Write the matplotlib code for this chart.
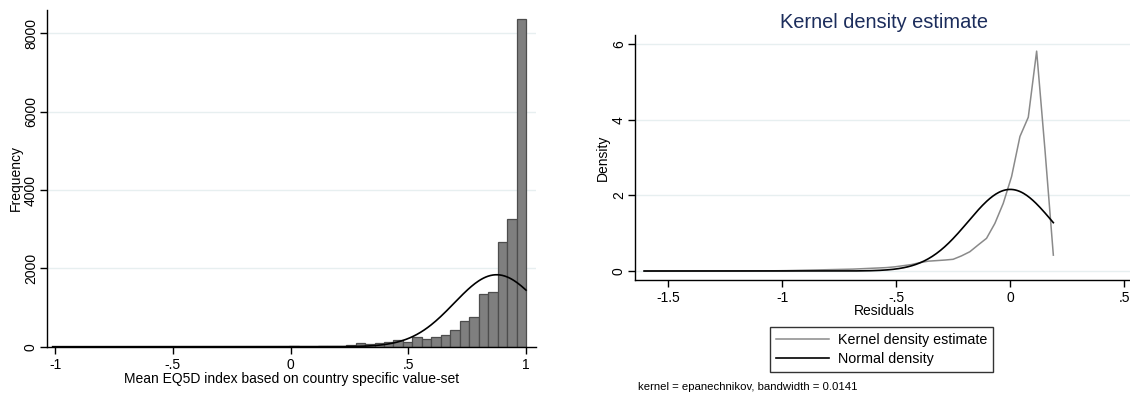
import numpy as np
import matplotlib
matplotlib.use("Agg")
import matplotlib.pyplot as plt

plt.rcParams['font.family'] = ['Liberation Sans', 'DejaVu Sans']

# ---------------- data: histogram (left) ----------------
hist_start = -1.01
hist_binwidth = 0.0402
hist_counts = [0, 0, 0, 0, 0, 0, 0, 0, 0, 0,
               0, 0, 0, 0, 0, 0, 0, 0, 0, 0,
               0, 0, 0, 0, 2,
               25, 5, 5, 8, 10, 30, 40, 90, 70, 100, 120, 171,
               128, 255, 189, 248, 290, 418, 648, 758, 1337, 1388,
               2665, 3252, 8366]
hist_mean = 0.875
hist_sd = 0.18
hist_min, hist_max = -1.01, 1.0
hist_xticks = [-1, -0.5, 0, 0.5, 1]
hist_xticklabels = ['-1', '-.5', '0', '.5', '1']
hist_yticks = [0, 2000, 4000, 6000, 8000]
hist_yticklabels = ['0', '2000', '4000', '6000', '8000']

# ---------------- data: kernel density (right) ----------------
kd_min, kd_max = -1.607, 0.189
kd_density = [0.0, 0.0, 0.0, 0.0, 0.0, 0.0, 0.0, 0.0, 0.0, 0.0,
              0.0, 0.0, 0.002, 0.003, 0.004, 0.005, 0.007, 0.01, 0.015, 0.02,
              0.025, 0.03, 0.035, 0.04, 0.045, 0.05, 0.06, 0.07, 0.08, 0.09,
              0.11, 0.14, 0.17, 0.22, 0.26, 0.275, 0.29, 0.31, 0.40, 0.51,
              0.69, 0.865, 1.26, 1.79, 2.50, 3.56, 4.07, 5.82, 3.2, 0.42]
kd_mean = 0.0
kd_sd = 0.1847
kd_xticks = [-1.5, -1, -0.5, 0, 0.5]
kd_xticklabels = ['-1.5', '-1', '-.5', '0', '.5']
kd_yticks = [0, 2, 4, 6]
kd_yticklabels = ['0', '2', '4', '6']
legend_labels = ['Kernel density estimate', 'Normal density']

W, H = 1130, 394
fig = plt.figure(figsize=(W / 100, H / 100), dpi=100)
fig.patch.set_facecolor('white')

def fr(x0, y0, x1, y1):
    return [x0 / W, 1 - y1 / H, (x1 - x0) / W, (y1 - y0) / H]

grid_color = '#e7eff0'

def style(ax):
    for s in ['top', 'right']:
        ax.spines[s].set_visible(False)
    for s in ['left', 'bottom']:
        ax.spines[s].set_linewidth(1.0)
        ax.spines[s].set_color('black')
    ax.tick_params(axis='both', direction='out', length=5, width=1, labelsize=10, colors='black')
    ax.tick_params(axis='y', pad=1.5)
    ax.tick_params(axis='x', pad=3)
    ax.set_axisbelow(True)

# ---------------- left panel ----------------
ax1 = fig.add_axes(fr(47, 10, 535.7, 346.7))
style(ax1)
counts = np.array(hist_counts, dtype=float)
edges = hist_start + hist_binwidth * np.arange(len(counts) + 1)
ax1.bar(edges[:-1], counts, width=hist_binwidth, align='edge',
        color='#7f7f7f', edgecolor='#4d4d4d', linewidth=0.9, zorder=2)
xs = np.linspace(hist_min, hist_max, 400)
scale = counts.sum() * hist_binwidth
ys = scale / (hist_sd * np.sqrt(2 * np.pi)) * np.exp(-0.5 * ((xs - hist_mean) / hist_sd) ** 2)
ax1.plot(xs, ys, color='black', lw=1.2, zorder=3)
ax1.set_xlim(-1.034, 1.041)
ax1.set_ylim(0, 8596)
ax1.set_xticks(hist_xticks)
ax1.set_xticklabels(hist_xticklabels)
ax1.set_yticks(hist_yticks)
ax1.set_yticklabels(hist_yticklabels, rotation=90, va='center')
for y in hist_yticks[1:]:
    ax1.axhline(y, color=grid_color, lw=1.0, zorder=0)
ax1.set_xlabel('Mean EQ5D index based on country specific value-set', fontsize=10)
ax1.xaxis.set_label_coords(0.5, (346.7 - 379.3) / 336.7)
ax1.xaxis.label.set_va('center')
ax1.set_ylabel('Frequency', fontsize=10)
ax1.yaxis.set_label_coords((15.5 - 47) / 488.7, 0.5)
ax1.yaxis.label.set_va('center')

# ---------------- right panel ----------------
ax2 = fig.add_axes(fr(635, 35, 1133, 280))
style(ax2)
kd_y = np.array(kd_density)
kd_x = np.linspace(kd_min, kd_max, len(kd_y))
for y in kd_yticks:
    ax2.axhline(y, color=grid_color, lw=1.0, zorder=0)
l1, = ax2.plot(kd_x, kd_y, color='#8a8a8a', lw=1.1, zorder=2)
nx = np.linspace(kd_min, kd_max, 400)
ny = 1 / (kd_sd * np.sqrt(2 * np.pi)) * np.exp(-0.5 * ((nx - kd_mean) / kd_sd) ** 2)
l2, = ax2.plot(nx, ny, color='black', lw=1.2, zorder=3)
ax2.set_xlim(-1.647, 0.5386)
ax2.set_ylim(-0.238, 6.247)
ax2.set_xticks(kd_xticks)
ax2.set_xticklabels(kd_xticklabels)
ax2.set_yticks(kd_yticks)
ax2.set_yticklabels(kd_yticklabels, rotation=90, va='center')
ax2.set_xlabel('Residuals', fontsize=10)
ax2.xaxis.set_label_coords((884.5 - 635) / 498, (280 - 310.7) / 245)
ax2.xaxis.label.set_va('center')
ax2.set_ylabel('Density', fontsize=10)
ax2.yaxis.set_label_coords((602.7 - 635) / 498, 0.5)
ax2.yaxis.label.set_va('center')

fig.text(883.5 / W, 1 - 28.3 / H, 'Kernel density estimate', ha='center', va='baseline',
         fontsize=14.4, color='#1c2d5c')

leg = fig.legend([l1, l2], legend_labels, loc='upper left',
                 bbox_to_anchor=(770 / W, 1 - 327.3 / H), bbox_transform=fig.transFigure,
                 borderaxespad=0, fontsize=10.25, frameon=True, fancybox=False,
                 handlelength=3.73, handletextpad=0.63, borderpad=0.42, labelspacing=0.36)
leg.get_frame().set_edgecolor('black')
leg.get_frame().set_linewidth(1.0)

fig.text(638 / W, 1 - 387.3 / H, 'kernel = epanechnikov, bandwidth = 0.0141',
         ha='left', va='center', fontsize=8.2)

fig.savefig('out.png', dpi=100, facecolor='white')
